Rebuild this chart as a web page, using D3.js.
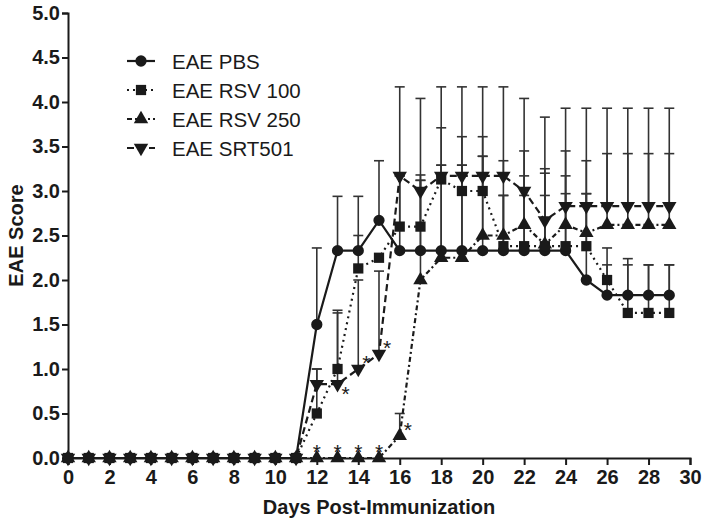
<!DOCTYPE html>
<html>
<head>
<meta charset="utf-8">
<script src="https://cdn.jsdelivr.net/npm/d3@7"></script>
<style>
  body { margin: 0; background: #fff; }
  text { font-family: "Liberation Sans", Arial, sans-serif; fill: #1a1a1a; }
</style>
</head>
<body>
<div id="chart"></div>
<script>
const width = 708;
const height = 523;
const margin = { top: 13, right: 18, bottom: 65, left: 68 };

// Days post-immunization
const days = [0,1,2,3,4,5,6,7,8,9,10,11,12,13,14,15,16,17,18,19,20,21,22,23,24,25,26,27,28,29];

// Mean EAE score per group
const pbsMean    = [0,0,0,0,0,0,0,0,0,0,0,0,1.5,2.33,2.33,2.67,2.33,2.33,2.33,2.33,2.33,2.33,2.33,2.33,2.33,2.0,1.83,1.83,1.83,1.83];
const rsv100Mean = [0,0,0,0,0,0,0,0,0,0,0,0,0.5,1.0,2.13,2.25,2.6,2.6,3.13,3.0,3.0,2.38,2.38,2.38,2.38,2.38,2.0,1.63,1.63,1.63];
const rsv250Mean = [0,0,0,0,0,0,0,0,0,0,0,0,0,0,0,0,0.25,2.0,2.25,2.25,2.5,2.5,2.62,2.4,2.62,2.53,2.62,2.62,2.62,2.62];
const srtMean    = [0,0,0,0,0,0,0,0,0,0,0,0,0.83,0.83,1.0,1.17,3.17,3.0,3.17,3.17,3.17,3.17,3.0,2.67,2.83,2.83,2.83,2.83,2.83,2.83];

// SEM (drawn upward only)
const pbsErr    = [0,0,0,0,0,0,0,0,0,0,0,0,0.86,0.61,0.61,0.67,0.84,0.79,0.96,0.96,1.06,0.62,0.62,0.62,0.64,0.97,0.34,0.34,0.34,0.34];
const rsv100Err = [0,0,0,0,0,0,0,0,0,0,0,0,0.5,0.66,0.37,0,0.57,0.58,0.58,0.61,0.61,0.57,0.79,0.82,0.79,0.59,0.36,0.61,0.54,0.54];
const rsv250Err = [0,0,0,0,0,0,0,0,0,0,0,0,0,0,0,0,0.25,1.12,1.04,1.04,0.89,0.84,0.83,0.85,0.83,0.81,0.8,0.8,0.8,0.8];
const srtErr    = [0,0,0,0,0,0,0,0,0,0,0,0,0.17,0.8,1.0,0.93,1.0,1.04,1.0,1.0,1.0,1.0,1.04,1.16,1.1,1.1,1.1,1.1,1.1,1.1];

const seriesNames = ["EAE PBS", "EAE RSV 100", "EAE RSV 250", "EAE SRT501"];

// Significance marks: group, day, placement
const stars = [
  ["EAE RSV 250", 12, "above"], ["EAE RSV 250", 13, "above"],
  ["EAE RSV 250", 14, "above"], ["EAE RSV 250", 15, "above"],
  ["EAE SRT501", 13, "belowRight"], ["EAE SRT501", 14, "aboveRight"],
  ["EAE SRT501", 15, "aboveRight"], ["EAE RSV 250", 16, "aboveRight"]
];

const xTicks = [0,2,4,6,8,10,12,14,16,18,20,22,24,26,28,30];
const yTicks = [0,0.5,1,1.5,2,2.5,3,3.5,4,4.5,5];

const series = [
  { name: seriesNames[0], mean: pbsMean,    err: pbsErr,    symbol: d3.symbolCircle,   size: 100, rot: 0,   dash: null },
  { name: seriesNames[1], mean: rsv100Mean, err: rsv100Err, symbol: d3.symbolSquare,   size: 105, rot: 0,   dash: "2,4" },
  { name: seriesNames[2], mean: rsv250Mean, err: rsv250Err, symbol: d3.symbolTriangle, size: 90,  rot: 0,   dash: "5,3,2,3" },
  { name: seriesNames[3], mean: srtMean,    err: srtErr,    symbol: d3.symbolTriangle, size: 90,  rot: 180, dash: "7,4" }
];

const ink = "#1a1a1a";

const svg = d3.select("#chart")
    .append("svg")
    .attr("width", width)
    .attr("height", height);

const x = d3.scaleLinear()
    .domain([0, 30])
    .range([margin.left, width - margin.right]);

const y = d3.scaleLinear()
    .domain([0, 5])
    .range([height - margin.bottom, margin.top]);

// Error bars (upper only)
const capW = 5;
series.forEach(s => {
    const g = svg.append("g").attr("stroke", "#333").attr("stroke-width", 1.6);
    days.forEach((d, i) => {
        if (!s.err[i]) return;
        const top = s.mean[i] + s.err[i];
        g.append("line")
            .attr("x1", x(d)).attr("x2", x(d))
            .attr("y1", y(s.mean[i])).attr("y2", y(top));
        g.append("line")
            .attr("x1", x(d) - capW).attr("x2", x(d) + capW)
            .attr("y1", y(top)).attr("y2", y(top));
    });
});

// Axes
const yAxis = svg.append("g")
    .attr("transform", `translate(${margin.left},0)`)
    .call(d3.axisLeft(y).tickValues(yTicks).tickFormat(d3.format(".1f")).tickSize(6).tickPadding(2));

const xAxis = svg.append("g")
    .attr("transform", `translate(0,${height - margin.bottom})`)
    .call(d3.axisBottom(x).tickValues(xTicks).tickFormat(d3.format("d")).tickSize(7).tickPadding(5));

[yAxis, xAxis].forEach(a => {
    a.select(".domain").attr("stroke", ink).attr("stroke-width", 2);
    a.selectAll(".tick line").attr("stroke", ink).attr("stroke-width", 2);
    a.selectAll(".tick text")
        .attr("fill", ink)
        .style("font-size", "20px")
        .style("font-weight", "bold")
        .style("font-family", "'Liberation Sans', Arial, sans-serif");
});

// Lines
const line = d3.line()
    .x((d, i) => x(days[i]))
    .y(d => y(d));

series.forEach(s => {
    svg.append("path")
        .datum(s.mean)
        .attr("fill", "none")
        .attr("stroke", ink)
        .attr("stroke-width", 2.2)
        .attr("stroke-dasharray", s.dash)
        .attr("d", line);
});

// Markers
series.forEach(s => {
    const sym = d3.symbol().type(s.symbol).size(s.size);
    svg.append("g").selectAll("path")
        .data(s.mean)
      .enter().append("path")
        .attr("d", sym)
        .attr("fill", ink)
        .attr("transform", (d, i) => `translate(${x(days[i])},${y(d)}) rotate(${s.rot})`);
});

// Asterisks
const starOffset = {
    above: [0, -7],
    aboveRight: [8, -7],
    belowRight: [8, 9]
};
stars.forEach(([name, day, where]) => {
    const s = series.find(q => q.name === name);
    const i = days.indexOf(day);
    const o = starOffset[where];
    svg.append("text")
        .attr("x", x(day) + o[0])
        .attr("y", y(s.mean[i]) + o[1] + 8)
        .attr("text-anchor", "middle")
        .style("font-size", "21px")
        .text("*");
});

// Axis titles
svg.append("text")
    .attr("x", x(15))
    .attr("y", 514)
    .attr("text-anchor", "middle")
    .style("font-size", "20px")
    .style("font-weight", "bold")
    .text("Days Post-Immunization");

svg.append("text")
    .attr("transform", `translate(23,${y(2.5)}) rotate(-90)`)
    .attr("text-anchor", "middle")
    .style("font-size", "20px")
    .style("font-weight", "bold")
    .text("EAE Score");

// Legend
const legend = svg.append("g").attr("transform", "translate(127,61)");
series.forEach((s, k) => {
    const row = legend.append("g").attr("transform", `translate(0,${k * 29})`);
    row.append("line")
        .attr("x1", 0).attr("x2", 28)
        .attr("stroke", ink)
        .attr("stroke-width", 2.2)
        .attr("stroke-dasharray", s.dash);
    row.append("path")
        .attr("d", d3.symbol().type(s.symbol).size(s.size))
        .attr("fill", ink)
        .attr("transform", `translate(14,0) rotate(${s.rot})`);
    row.append("text")
        .attr("x", 45)
        .attr("y", 0)
        .attr("dominant-baseline", "central")
        .style("font-size", "20.5px")
        .text(s.name);
});
</script>
</body>
</html>
